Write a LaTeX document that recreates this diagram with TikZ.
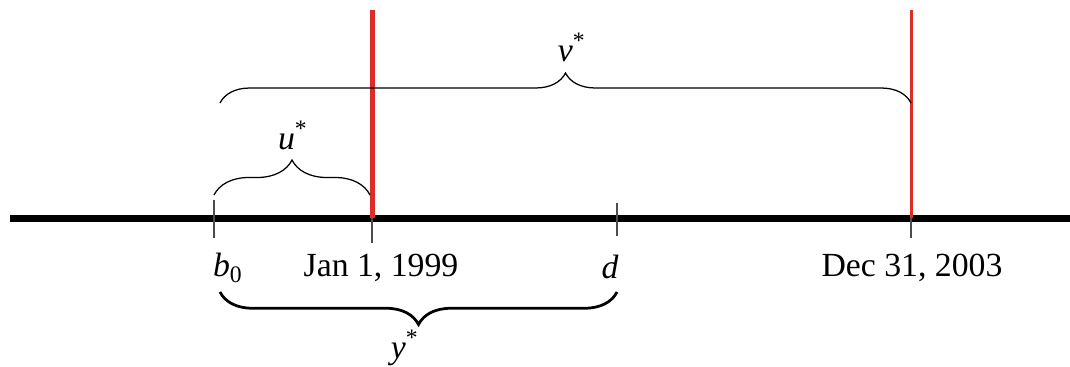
\documentclass[tikz,border=0pt]{standalone}
\usepackage{fontspec}
\setmainfont{Liberation Serif}
\usetikzlibrary{decorations.pathreplacing,positioning}
\definecolor{cLimit}{RGB}{222,45,38}
\tikzset{
  axis/.style={line width=2.8pt, black},
  tick/.style={line width=0.6pt, black!70},
  limit/.style={cLimit, line width=#1},
  lbl/.style={font=\fontsize{13.5}{16}\selectfont, inner sep=1pt},
  brc/.style={decorate, decoration={brace, amplitude=#1}, line width=0.5pt},
}
\begin{document}
\begin{tikzpicture}[x=0.4pt, y=-0.4pt]
  \useasboundingbox (0,0) rectangle (1070,366);
  % time axis and its points
  \coordinate (ax-l) at (10,218);
  \coordinate (ax-r) at (1070,218);
  \coordinate (b0) at (214,218);
  \coordinate (jan) at (372,218);
  \coordinate (d) at (617,218);
  \coordinate (dec) at (911,218);
  \draw[axis] (ax-l) -- (ax-r);
  % ticks
  \draw[tick] ([yshift=7.2pt]b0) -- ([yshift=-8pt]b0);
  \draw[tick] (jan) -- ([yshift=-10pt]jan);
  \draw[tick] ([yshift=6pt]d) -- ([yshift=-7.2pt]d);
  \draw[tick] (dec) -- ([yshift=-8pt]dec);
  % observation window
  \coordinate (jan-top) at (372,10);
  \coordinate (dec-top) at (911,10);
  \draw[limit=2pt] (jan-top) -- (jan);
  \draw[limit=1.2pt] (dec-top) -- (dec);
  % labels
  \node[lbl] (lb0) at (228,268) {\textit{b}\textsubscript{0}};
  \node[lbl] (ljan) at (381,268) {Jan 1, 1999};
  \node[lbl] (ld) at (610,267) {\textit{d}};
  \node[lbl] (ldec) at (912,268) {Dec 31, 2003};
  % braces
  \coordinate (u-l) at (214,195);
  \coordinate (u-r) at (370,195);
  \coordinate (v-l) at (220,103);
  \coordinate (v-r) at (911,103);
  \coordinate (y-l) at (220,292);
  \coordinate (y-r) at (617,292);
  \draw[brc=14pt] (u-l) -- (u-r);
  \draw[brc=12pt] (v-l) -- (v-r);
  \draw[brc=13pt, line width=1.1pt] (y-r) -- (y-l);
  \node[lbl] (lu) at (293,135) {\textit{u}\textsuperscript{*}};
  \node[lbl] (lv) at (572,47) {\textit{v}\textsuperscript{*}};
  \node[lbl] (ly) at (405,348) {\textit{y}\textsuperscript{*}};
\end{tikzpicture}
\end{document}
